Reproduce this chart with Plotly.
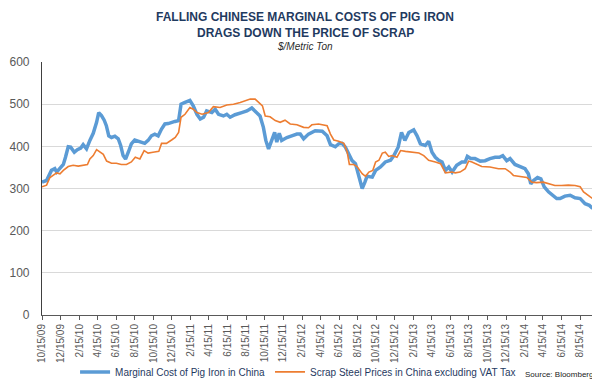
import plotly.graph_objects as go

# ---------------- data ----------------
pig_iron_dates = [
    "2009-10-15","2009-10-30","2009-11-15","2009-11-26","2009-12-02","2009-12-13","2009-12-24","2009-12-31",
    "2010-01-09","2010-01-17","2010-01-29","2010-02-08","2010-02-19","2010-02-27","2010-03-10","2010-03-21",
    "2010-04-01","2010-04-12","2010-04-19","2010-04-28","2010-05-07","2010-05-14","2010-05-22","2010-05-31",
    "2010-06-11","2010-06-22","2010-06-30","2010-07-08","2010-07-16","2010-07-25","2010-08-04","2010-08-15",
    "2010-08-26","2010-09-06","2010-09-17","2010-09-28","2010-10-09","2010-10-20","2010-10-31","2010-11-11",
    "2010-11-22","2010-12-03","2010-12-14","2010-12-25","2011-01-06","2011-01-14","2011-01-27","2011-02-12",
    "2011-02-23","2011-03-07","2011-03-18","2011-03-29","2011-04-08","2011-04-25","2011-05-06","2011-05-17",
    "2011-06-02","2011-06-13","2011-06-24","2011-07-10","2011-08-01","2011-08-18","2011-09-03","2011-09-14",
    "2011-09-30","2011-10-11","2011-10-19","2011-10-28","2011-11-08","2011-11-17","2011-11-24","2011-12-02",
    "2011-12-10","2011-12-27","2012-01-12","2012-01-29","2012-02-09","2012-02-20","2012-03-07","2012-03-29",
    "2012-04-21","2012-05-07","2012-05-18","2012-06-03","2012-06-14","2012-06-25","2012-07-06","2012-07-17",
    "2012-07-28","2012-08-08","2012-08-19","2012-08-30","2012-09-08","2012-09-15","2012-10-02","2012-10-13",
    "2012-10-29","2012-11-14","2012-12-01","2012-12-12","2012-12-26","2013-01-06","2013-01-17","2013-01-30",
    "2013-02-15","2013-02-26","2013-03-09","2013-03-25","2013-04-05","2013-04-16","2013-04-27","2013-05-08",
    "2013-05-19","2013-05-30","2013-06-10","2013-06-21","2013-07-06","2013-07-23","2013-08-03","2013-08-10",
    "2013-08-21","2013-09-04","2013-09-21","2013-10-07","2013-10-23","2013-11-09","2013-11-23","2013-12-04",
    "2013-12-17","2013-12-28","2014-01-13","2014-01-30","2014-02-15","2014-02-26","2014-03-06","2014-03-15",
    "2014-03-28","2014-04-08","2014-04-19","2014-05-03","2014-05-19","2014-05-30","2014-06-10","2014-06-26",
    "2014-07-13","2014-07-29","2014-08-15","2014-08-31","2014-09-14","2014-09-25",
]
pig_iron_values = [
    315,319,343,347,339,349,357,374,
    399,398,386,392,396,404,394,414,
    431,457,480,473,462,449,425,421,
    424,418,402,378,370,386,406,415,
    412,410,407,414,425,429,425,441,
    453,454,457,459,461,500,504,509,
    496,476,465,469,484,480,488,476,
    472,476,469,475,480,484,491,484,
    472,445,414,394,414,433,410,431,
    414,421,425,429,429,418,429,437,
    436,425,404,399,406,407,398,382,
    366,359,327,300,315,329,327,343,
    351,363,367,378,398,433,414,433,
    439,425,406,402,412,386,374,367,
    363,343,351,339,355,363,363,376,
    371,371,365,366,371,374,374,378,
    366,371,357,351,347,335,311,319,
    326,323,304,292,284,276,276,282,
    284,278,276,264,260,253,
]

scrap_dates = [
    "2009-10-15","2009-10-30","2009-11-10","2009-11-21","2009-12-02","2009-12-13","2009-12-24","2010-01-09",
    "2010-01-25","2010-02-11","2010-02-27","2010-03-13","2010-03-21","2010-04-01","2010-04-12","2010-04-23",
    "2010-05-04","2010-05-15","2010-05-31","2010-06-16","2010-07-02","2010-07-19","2010-08-04","2010-08-17",
    "2010-09-01","2010-09-15","2010-09-28","2010-10-14","2010-11-02","2010-11-11","2010-11-27","2010-12-14",
    "2010-12-26","2011-01-06","2011-01-14","2011-01-27","2011-02-12","2011-02-23","2011-03-07","2011-03-24",
    "2011-04-14","2011-04-30","2011-05-22","2011-06-13","2011-07-05","2011-07-27","2011-08-12","2011-08-29",
    "2011-09-14","2011-09-25","2011-10-08","2011-10-17","2011-11-02","2011-11-19","2011-12-05","2011-12-21",
    "2012-01-07","2012-01-29","2012-02-20","2012-03-07","2012-03-18","2012-04-09","2012-05-07","2012-05-18",
    "2012-05-29","2012-06-14","2012-07-01","2012-07-12","2012-07-19","2012-08-02","2012-08-13","2012-08-30",
    "2012-09-10","2012-09-21","2012-10-04","2012-10-13","2012-10-24","2012-11-04","2012-11-14","2012-11-25",
    "2012-12-06","2012-12-22","2013-01-03","2013-01-19","2013-02-10","2013-03-04","2013-03-20","2013-04-05",
    "2013-04-27","2013-05-14","2013-05-30","2013-06-21","2013-07-01","2013-07-17","2013-08-03","2013-08-14",
    "2013-08-25","2013-09-10","2013-09-26","2013-10-23","2013-11-20","2013-12-12","2013-12-28","2014-01-08",
    "2014-01-30","2014-02-21","2014-03-09","2014-03-25","2014-04-16","2014-05-08","2014-05-24","2014-06-15",
    "2014-07-07","2014-07-29","2014-08-15","2014-08-26","2014-09-06","2014-09-17","2014-09-25",
]
scrap_values = [
    304,308,326,331,337,335,343,352,
    355,353,355,357,370,378,392,386,
    381,365,360,360,357,357,363,374,
    370,390,384,386,388,407,407,415,
    421,433,469,476,492,488,480,476,
    480,494,492,498,500,504,508,512,
    512,504,496,472,470,461,457,462,
    453,451,445,444,451,453,449,429,
    415,412,407,386,357,357,352,335,
    329,339,343,363,367,384,386,376,
    378,374,390,388,386,384,378,367,
    363,359,337,339,337,339,347,365,
    363,357,352,351,347,347,339,331,
    329,326,315,314,315,310,307,307,
    308,307,304,292,287,280,276,
]

tick_dates = [
    "2009-10-15","2009-12-15","2010-02-15","2010-04-15","2010-06-15","2010-08-15","2010-10-15","2010-12-15",
    "2011-02-15","2011-04-15","2011-06-15","2011-08-15","2011-10-15","2011-12-15","2012-02-15","2012-04-15",
    "2012-06-15","2012-08-15","2012-10-15","2012-12-15","2013-02-15","2013-04-15","2013-06-15","2013-08-15",
    "2013-10-15","2013-12-15","2014-02-15","2014-04-15","2014-06-15","2014-08-15",
]
tick_labels = [
    "10/15/09","12/15/09","2/15/10","4/15/10","6/15/10","8/15/10","10/15/10","12/15/10",
    "2/15/11","4/15/11","6/15/11","8/15/11","10/15/11","12/15/11","2/15/12","4/15/12",
    "6/15/12","8/15/12","10/15/12","12/15/12","2/15/13","4/15/13","6/15/13","8/15/13",
    "10/15/13","12/15/13","2/15/14","4/15/14","6/15/14","8/15/14",
]

series_names = ["Marginal Cost of Pig Iron in China", "Scrap Steel Prices in China excluding VAT Tax"]

# ---------------- figure ----------------
FONT = "Liberation Sans"
NAVY = "#1f3a5f"

fig = go.Figure()
fig.add_trace(go.Scatter(x=pig_iron_dates, y=pig_iron_values, mode="lines",
                         name=series_names[0], line=dict(color="#5b9bd5", width=3.5)))
fig.add_trace(go.Scatter(x=scrap_dates, y=scrap_values, mode="lines",
                         name=series_names[1], line=dict(color="#ed7d31", width=1.6)))

fig.update_layout(
    width=592, height=377,
    margin=dict(l=34, r=7, t=54, b=70, autoexpand=False),
    paper_bgcolor="white", plot_bgcolor="white",
    font=dict(family=FONT, color="#595959"),
    showlegend=True,
    legend=dict(orientation="h", x=0.06, xanchor="left", y=-0.225, yanchor="middle",
                font=dict(family=FONT, size=10, color=NAVY), itemwidth=30,
                tracegroupgap=0, bgcolor="rgba(0,0,0,0)"),
    xaxis=dict(type="date", range=["2009-10-15", "2014-09-26"], automargin=False,
               tickmode="array", tickvals=tick_dates, ticktext=tick_labels,
               tickangle=-90, tickfont=dict(family=FONT, size=10, color="#595959"),
               showgrid=False, showline=True, linecolor="#595959", linewidth=1,
               ticks="outside", ticklen=4, tickcolor="#595959", zeroline=False),
    yaxis=dict(range=[0, 600], dtick=100, automargin=False,
               tickfont=dict(family=FONT, size=12, color="#595959"),
               showgrid=True, gridcolor="#d9d9d9", gridwidth=1,
               showline=True, linecolor="#404040", linewidth=1.2,
               ticks="", zeroline=False, ticklabelstandoff=9),
    annotations=[
        dict(text="<b>FALLING CHINESE MARGINAL COSTS OF PIG IRON</b>", xref="paper", yref="paper",
             x=0.478, y=1.179, xanchor="center", yanchor="middle", showarrow=False,
             font=dict(family=FONT, size=12, color=NAVY)),
        dict(text="<b>DRAGS DOWN THE PRICE OF SCRAP</b>", xref="paper", yref="paper",
             x=0.478, y=1.116, xanchor="center", yanchor="middle", showarrow=False,
             font=dict(family=FONT, size=12, color=NAVY)),
        dict(text="<i>$/Metric Ton</i>", xref="paper", yref="paper",
             x=0.478, y=1.061, xanchor="center", yanchor="middle", showarrow=False,
             font=dict(family=FONT, size=10, color="#2b2b2b")),
        dict(text="Source: Bloomberg", xref="paper", yref="paper",
             x=1.004, y=-0.237, xanchor="right", yanchor="middle", showarrow=False,
             font=dict(family=FONT, size=8, color="#222222")),
    ],
)

fig.write_html("out.html")
